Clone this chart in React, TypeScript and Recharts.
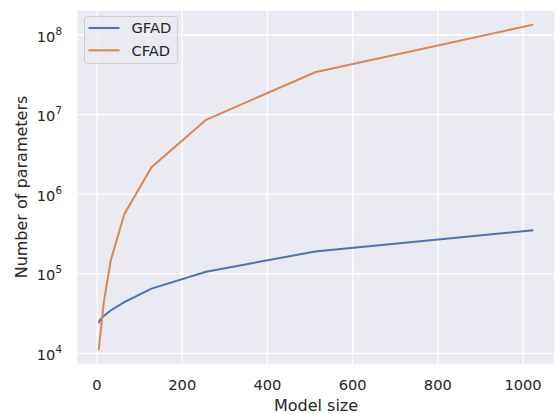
import { LineChart, Line, XAxis, YAxis, CartesianGrid } from 'recharts';

// model sizes on the x axis
const modelSizes = [4, 8, 16, 32, 64, 128, 256, 512, 1024];
// number of parameters per model
const gfadParams = [24000, 26500, 29500, 34500, 44000, 65000, 106000, 190000, 352000];
const cfadParams = [11000, 17500, 44000, 145000, 560000, 2180000, 8600000, 34000000, 135000000];

const seriesNames = ['GFAD', 'CFAD'];
const seriesColors = ['#4C72B0', '#DD8452'];

const xTicks = [0, 200, 400, 600, 800, 1000];
const yTicks = [1e4, 1e5, 1e6, 1e7, 1e8];

const FONT = '"DejaVu Sans", sans-serif';
const TEXT = '#262626';

const data = modelSizes.map((size, i) => ({
  size,
  GFAD: gfadParams[i],
  CFAD: cfadParams[i],
}));

function XTick({ x, y, payload }: any) {
  return (
    <text x={x} y={y + 25.5} textAnchor="middle" fill={TEXT} fontSize={14.67} fontFamily={FONT}>
      {payload.value}
    </text>
  );
}

function YTick({ x, y, payload }: any) {
  const exp = Math.round(Math.log10(payload.value));
  return (
    <text x={x - 15} y={y + 6.7} textAnchor="end" fill={TEXT} fontSize={14.67} fontFamily={FONT}>
      10
      <tspan dy={-7} fontSize={10.3}>{exp}</tspan>
    </text>
  );
}

// axis titles ignore the props recharts passes in
function XTitle() {
  return (
    <text x={316} y={411} textAnchor="middle" fill={TEXT} fontSize={16} fontFamily={FONT}>
      Model size
    </text>
  );
}

function YTitle() {
  return (
    <text x={26.5} y={187} transform="rotate(-90, 26.5, 187)" textAnchor="middle" fill={TEXT} fontSize={16} fontFamily={FONT}>
      Number of parameters
    </text>
  );
}

function LegendBox() {
  return (
    <svg width={555} height={414} style={{ position: 'absolute', left: 0, top: 0, pointerEvents: 'none' }}>
      <rect x={84.5} y={16.5} width={93} height={47} rx={3} fill="#EAEAF2" fillOpacity={0.8} stroke="#cccccc" strokeWidth={1} />
      {seriesNames.map((name, i) => (
        <g key={name}>
          <line x1={88.5} x2={119.5} y1={28 + i * 22.3} y2={28 + i * 22.3} stroke={seriesColors[i]} strokeWidth={2} />
          <text x={131.5} y={33.3 + i * 22.3} fill={TEXT} fontSize={14.67} fontFamily={FONT}>{name}</text>
        </g>
      ))}
    </svg>
  );
}

export default function App() {
  return (
    <div style={{ position: 'absolute', left: 0, top: 0, width: 555, height: 414, background: '#fff' }}>
      <LineChart width={555} height={414} data={data} margin={{ top: 10, right: 0, bottom: 0, left: 0 }}>
        <CartesianGrid fill="#EAEAF2" stroke="#ffffff" strokeWidth={1.3} />
        <XAxis
          dataKey="size"
          type="number"
          domain={[-47, 1075]}
          ticks={xTicks}
          allowDataOverflow
          axisLine={false}
          tickLine={false}
          tickSize={0}
          tickMargin={0}
          height={49.5}
          tick={<XTick />}
          label={<XTitle />}
        />
        <YAxis
          type="number"
          scale="log"
          domain={[Math.pow(10, 3.859), Math.pow(10, 8.314)]}
          ticks={yTicks}
          allowDataOverflow
          axisLine={false}
          tickLine={false}
          tickSize={0}
          tickMargin={0}
          width={77}
          tick={<YTick />}
          label={<YTitle />}
        />
        {seriesNames.map((name, i) => (
          <Line
            key={name}
            dataKey={name}
            type="linear"
            stroke={seriesColors[i]}
            strokeWidth={2}
            dot={false}
            activeDot={false}
            isAnimationActive={false}
          />
        ))}
      </LineChart>
      <LegendBox />
    </div>
  );
}
